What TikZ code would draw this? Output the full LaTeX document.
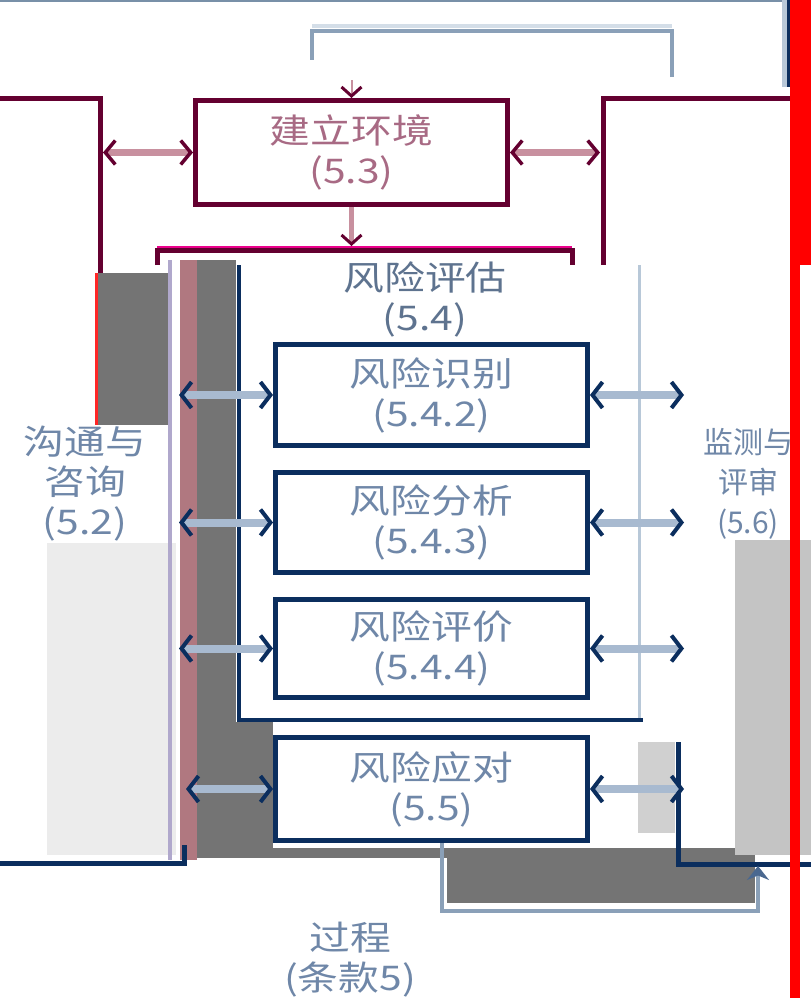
\documentclass[tikz,border=0pt]{standalone}
\usepackage{fontspec}
\setmainfont{Noto Sans CJK SC}[FakeStretch=1.2]
\newfontfamily\narrowcjk{Noto Sans CJK SC}[FakeStretch=1.0]
\usetikzlibrary{arrows.meta}
\definecolor{boxmaroon}{HTML}{640030}
\definecolor{boxnavy}{HTML}{0B2E5E}
\definecolor{pinkshaft}{HTML}{C8909F}
\definecolor{blueshaft}{HTML}{A8BAD0}
\definecolor{labelblue}{HTML}{6F87A8}
\definecolor{labelpink}{HTML}{A86A84}
\definecolor{loopcol}{HTML}{8AA0B8}
\definecolor{loopdark}{HTML}{4A6890}
\definecolor{gdark}{HTML}{747474}
\definecolor{glight}{HTML}{ECECEC}
\definecolor{gmid}{HTML}{C4C4C4}
\definecolor{mauvestripe}{HTML}{B07880}
\definecolor{lavstripe}{HTML}{B0A8CC}
\definecolor{framelight}{HTML}{B8C8D8}
\definecolor{topline}{HTML}{7890A8}
\begin{document}
\begin{tikzpicture}[x=1pt,y=-1pt,
  every node/.append style={font=\fontsize{34}{40}\selectfont},
  ctxbox/.style={draw=boxmaroon, line width=5pt, fill=white, minimum width=312pt,
    minimum height=104pt, inner sep=0pt, align=center, text=labelpink},
  stepbox/.style={draw=boxnavy, line width=5pt, fill=white, minimum width=312pt,
    inner sep=0pt, align=center, text=labelblue},
  txtlabel/.style={align=center, text=labelblue, inner sep=0pt},
  pinkarrow/.style={line width=7pt, draw=pinkshaft,
    {Straight Barb[length=10pt,width=24pt,line width=3.5pt,color=boxmaroon]}-{Straight Barb[length=10pt,width=24pt,line width=3.5pt,color=boxmaroon]}},
  pinkdown/.style={line width=5pt, draw=pinkshaft,
    -{Straight Barb[length=9pt,width=20pt,line width=3pt,color=boxmaroon]}},
  navyarrow/.style={line width=8pt, draw=blueshaft,
    {Straight Barb[length=10pt,width=26pt,line width=4pt,color=boxnavy]}-{Straight Barb[length=10pt,width=26pt,line width=4pt,color=boxnavy]}},
  loopline/.style={draw=loopcol, line width=4pt},
  maroonedge/.style={draw=boxmaroon, line width=5pt},
  navyedge/.style={draw=boxnavy, line width=5pt}]
\useasboundingbox (0,0) rectangle (811,998);
\clip (0,0) rectangle (811,998);

% ---- background blocks
\fill[white] (0,0) rectangle (811,998);
\fill[topline] (0,0) rectangle (787,2);
\fill[gdark] (98,273) rectangle (168,425);
\fill[glight] (47,543) rectangle (176,855);
\fill[lavstripe] (168,260) rectangle (172,860);
\fill[mauvestripe] (180,260) rectangle (197,860);
\fill[gdark] (197,260) rectangle (236,858);
\fill[gdark] (236,722) rectangle (273,858);
\fill[gdark] (197,848) rectangle (447,858);
\fill[gdark] (447,848) rectangle (755,903);
\fill[gmid] (735,540) rectangle (790,855);
\fill[gmid] (800,540) rectangle (811,855);
\fill[gmid!80] (638,742) rectangle (675,833);
\fill[framelight!60] (312,24) rectangle (672,28);

% ---- named coordinates
\coordinate (lbtop) at (103,0);
\coordinate (rbtop) at (600,0);
\coordinate (lbedge) at (179,0);
\coordinate (lbedgeb) at (186,0);
\coordinate (rbedge) at (684,0);
\coordinate (ratop) at (0,246);
\coordinate (tlR) at (672,77);
\coordinate (tlL) at (312,60);
\coordinate (tltop) at (0,31);
\coordinate (lpx) at (442,0);
\coordinate (lpbot) at (0,911);
\coordinate (upx) at (758,0);
\coordinate (rbbottom) at (0,866);

% ---- outer boxes (communication / monitoring), visible edges
\draw[maroonedge] (-5,98) -- (100,98) -- (100,273);
\draw[draw=red!80!pink, line width=3pt] (96,273) -- (96,425);
\draw[navyedge] (-5,863) -- (184,863) -- (184,845);
\draw[maroonedge] (811,98) -- (603,98) -- (603,265);
\draw[navyedge] (678,742) -- (678,864) -- (811,864);

% ---- risk assessment frame
\draw[maroonedge] (157,265) -- (157,250) -- (572,250) -- (572,265);
\draw[draw=magenta, line width=2pt] (157,247) -- (572,247);
\draw[draw=boxnavy, line width=4pt] (239,265) -- (239,720) -- (643,720);
\draw[draw=framelight, line width=3pt] (639,265) -- (639,718);

% ---- boxes
\node[ctxbox] (ctx) at (351.5,152.5) {建立环境\\(5.3)};
\node[stepbox, minimum height=101pt] (b1) at (431.5,395) {风险识别\\(5.4.2)};
\node[stepbox, minimum height=100pt] (b2) at (431.5,522.5) {风险分析\\(5.4.3)};
\node[stepbox, minimum height=98pt] (b3) at (431.5,648.5) {风险评价\\(5.4.4)};
\node[stepbox, minimum height=103pt] (b4) at (431.5,789) {风险应对\\(5.5)};

% ---- labels
\node[txtlabel, text=labelblue!85!black] (ra) at (425,299) {风险评估\\(5.4)};
\node[txtlabel] (comm) at (85,484) {沟通与\\咨询\\(5.2)};
\node[txtlabel, font=\narrowcjk\fontsize{30}{40}\selectfont] (mon) at (748,484) {监测与\\评审\\(5.6)};
\node[txtlabel] (proc) at (350,960) {过程\\(条款5)};

% ---- connectors
\draw[pinkarrow] (ctx.west -| lbtop) -- (ctx.west);
\draw[pinkarrow] (ctx.east) -- (ctx.east -| rbtop);
\draw[pinkdown] (ctx.south) -- (ctx.south |- ratop);
\draw[pinkdown, line width=2pt] (ctx.north) ++(0,-18) -- (ctx.north);

\draw[navyarrow] (b1.west -| lbedge) -- (b1.west);
\draw[navyarrow] (b2.west -| lbedge) -- (b2.west);
\draw[navyarrow] (b3.west -| lbedge) -- (b3.west);
\draw[navyarrow] (b4.west -| lbedgeb) -- (b4.west);
\draw[navyarrow] (b1.east) -- (b1.east -| rbedge);
\draw[navyarrow] (b2.east) -- (b2.east -| rbedge);
\draw[navyarrow] (b3.east) -- (b3.east -| rbedge);
\draw[navyarrow] (b4.east) -- (b4.east -| rbedge);

\draw[loopline] (tlR) -- (tlR |- tltop) -- (tlL |- tltop) -- (tlL);
\draw[loopline, -{Stealth[length=14pt,width=22pt,color=loopdark]}]
  (b4.south -| lpx) -- (lpx |- lpbot) -- (upx |- lpbot) -- (upx |- rbbottom);

% ---- right edge bars
\fill[framelight] (782,0) rectangle (787,87);
\fill[boxnavy] (787,0) rectangle (797,87);
\fill[red] (797,0) rectangle (811,265);
\fill[red] (790,0) rectangle (800,998);
\end{tikzpicture}
\end{document}
